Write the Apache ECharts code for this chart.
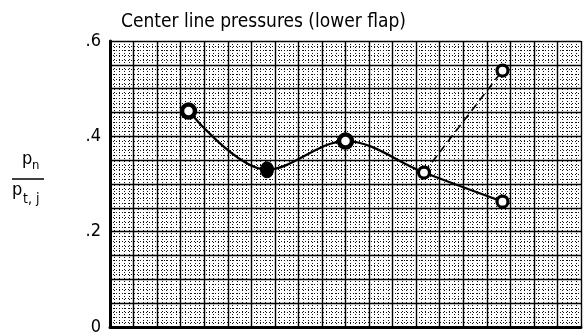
<!DOCTYPE html>
<html>
<head>
<meta charset="utf-8">
<script src="https://cdn.jsdelivr.net/npm/echarts@6/dist/echarts.min.js"></script>
<style>
  html, body { margin: 0; padding: 0; background: #fff; }
  #chart { width: 585px; height: 336px; }
</style>
</head>
<body>
<div id="chart"></div>
<script>
// Stations along the flap center line (axis runs 0..60, 20 grid columns)
const stations = [10, 20, 30, 40, 50];
// Pressure ratio p_n / p_t,j along the faired curve
const pressureRatio = [0.453, 0.330, 0.390, 0.324, 0.263];
// Dashed branch from the fourth station to an alternate reading at the fifth
const branchStations = [40, 50];
const branchRatio = [0.324, 0.538];
// Which markers are solid
const filledPoint = [false, true, false, false, false];
// Labelled y ticks
const yTickLabels = { '0': '0', '0.2': '.2', '0.4': '.4', '0.6': '.6' };

const FONT = '"Liberation Sans Narrow", "DejaVu Sans Condensed", "Roboto Condensed", "DejaVu Sans", sans-serif';

const mainData = stations.map((s, i) => ({
  value: [s, pressureRatio[i]],
  symbolSize: filledPoint[i] ? [13, 16] : (i === 0 || i === 2 ? 13 : 11),
  itemStyle: filledPoint[i]
    ? { color: '#000', borderColor: '#000', borderWidth: 1 }
    : { color: '#fff', borderColor: '#000', borderWidth: (i === 0 || i === 2) ? 4.5 : 3.2 }
}));

const branchData = branchStations.map((s, i) => ({
  value: [s, branchRatio[i]],
  symbolSize: i === 0 ? 0 : 11,
  itemStyle: { color: '#fff', borderColor: '#000', borderWidth: 3.2 }
}));

const chart = echarts.init(document.getElementById('chart'), null, { renderer: 'canvas' });

chart.setOption({
  backgroundColor: '#fff',
  animation: false,
  grid: { left: 110, right: 4, top: 41, bottom: 6, containLabel: false },
  xAxis: {
    type: 'value', min: 0, max: 60, interval: 3,
    axisLine: { show: true, onZero: false, lineStyle: { color: '#000', width: 3 } },
    axisTick: { show: false },
    axisLabel: { show: false },
    splitLine: { show: true, lineStyle: { color: '#000', width: 1.4 } },
    minorTick: { show: false, splitNumber: 5 },
    minorSplitLine: { show: true, lineStyle: { color: '#111', width: 1, type: [1, 2] } }
  },
  yAxis: {
    type: 'value', min: 0, max: 0.6, interval: 0.05,
    axisLine: { show: true, onZero: false, lineStyle: { color: '#000', width: 3 } },
    axisTick: { show: false },
    axisLabel: {
      margin: 9,
      color: '#000',
      fontFamily: FONT,
      fontSize: 18,
      formatter: function (v) {
        const k = (Math.round(v * 100) / 100).toString();
        return yTickLabels[k] || '';
      }
    },
    splitLine: { show: true, lineStyle: { color: '#000', width: 1.4 } },
    minorTick: { show: false, splitNumber: 5 },
    minorSplitLine: { show: true, lineStyle: { color: '#111', width: 1, type: [1, 2] } }
  },
  title: {
    text: 'Center line pressures (lower flap)',
    left: 116, top: 8,
    textStyle: { fontFamily: FONT, fontSize: 19, fontWeight: 'normal', color: '#000' }
  },
  graphic: [
    { type: 'text', left: 22, top: 150, style: { text: 'p', font: '18px ' + FONT, fill: '#000' } },
    { type: 'text', left: 32, top: 159, style: { text: 'n', font: '13px ' + FONT, fill: '#000' } },
    { type: 'line', shape: { x1: 12, y1: 179, x2: 44, y2: 179 }, style: { stroke: '#000', lineWidth: 1.5 } },
    { type: 'text', left: 12, top: 181, style: { text: 'p', font: '18px ' + FONT, fill: '#000' } },
    { type: 'text', left: 23, top: 192, style: { text: 't, j', font: '14px ' + FONT, fill: '#000' } }
  ],
  series: [
    {
      type: 'line',
      data: branchData,
      symbol: 'circle',
      lineStyle: { color: '#000', width: 1.6, type: [8, 5] },
      z: 3
    },
    {
      type: 'line',
      data: mainData,
      smooth: 0.35,
      symbol: 'circle',
      lineStyle: { color: '#000', width: 2.2 },
      z: 4
    }
  ]
});
</script>
</body>
</html>
